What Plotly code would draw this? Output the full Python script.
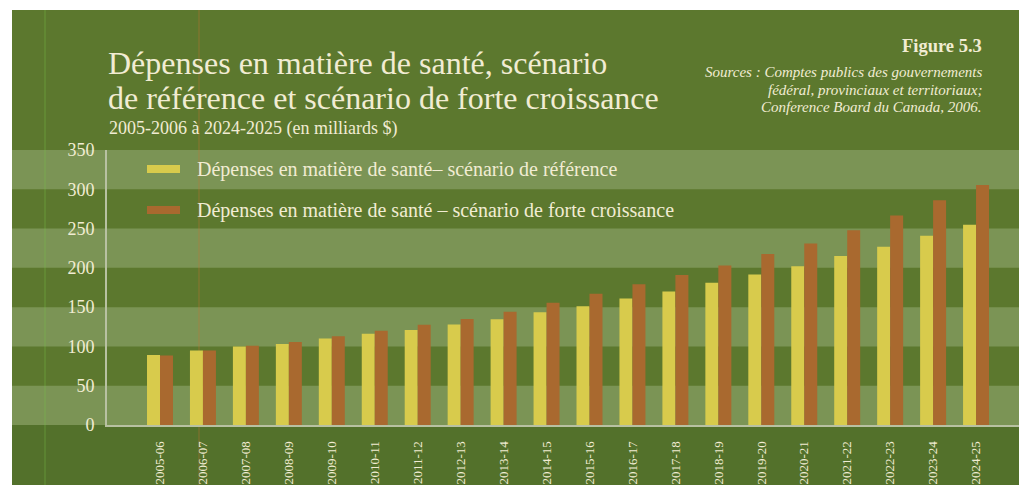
import plotly.graph_objects as go

annees = ['2005-06', '2006-07', '2007-08', '2008-09', '2009-10', '2010-11', '2011-12',
          '2012-13', '2013-14', '2014-15', '2015-16', '2016-17', '2017-18', '2018-19',
          '2019-20', '2020-21', '2021-22', '2022-23', '2023-24', '2024-25']
reference = [89, 94.7, 99.8, 103, 110, 116, 121, 128, 134.5, 143.5,
             151, 161, 170, 181, 191.5, 202, 215, 227, 241, 255]
forte = [88.5, 94.7, 101, 105.6, 113, 120, 127.5, 135, 144, 155.5,
         167, 179, 191, 203, 217.5, 231, 248, 266.5, 286, 305.5]
y_ticks = [0, 50, 100, 150, 200, 250, 300, 350]
bandes_claires = [(0, 50), (100, 150), (200, 250), (300, 350)]

nom_ref = 'Dépenses en matière de santé– scénario de référence'
nom_forte = 'Dépenses en matière de santé – scénario de forte croissance'

W, H = 1019, 489
L, R, T, B = 107, 0, 150, 64
JAUNE = '#d8cb4c'
BRUN = '#a9692f'
CREME = '#f1ecd3'
FOND = '#5c782e'
CLAIR = '#7b9455'
SERIF = 'Liberation Serif, Times New Roman, serif'


def px(xp):
    return (xp - L) / (W - L - R)


def py(yp):
    return (H - B - yp) / (H - T - B)


fig = go.Figure()
fig.add_trace(go.Bar(x=annees, y=reference, name=nom_ref, marker_color=JAUNE, marker_line_width=0))
fig.add_trace(go.Bar(x=annees, y=forte, name=nom_forte, marker_color=BRUN, marker_line_width=0))

shapes = []
# bandes horizontales du fond
for y0, y1 in bandes_claires:
    shapes.append(dict(type='rect', xref='paper', yref='y', x0=px(12), x1=px(W), y0=y0, y1=y1,
                       fillcolor=CLAIR, line_width=0, layer='below'))
# zone sous l'axe
shapes.append(dict(type='rect', xref='paper', yref='paper', x0=px(12), x1=px(W), y0=py(485), y1=0,
                   fillcolor='#53712b', line_width=0, layer='below'))
# traits verticaux de l'impression
for xl, coul in [(45, 'rgba(120,190,70,0.45)'), (199, 'rgba(200,110,50,0.45)')]:
    shapes.append(dict(type='line', xref='paper', yref='paper', x0=px(xl), x1=px(xl),
                       y0=py(485), y1=py(10), line=dict(color=coul, width=1), layer='below'))
# marges blanches (bord de page)
for x0, x1, y0, y1 in [(0, 12, 0, H), (0, W, 0, 10), (0, W, 485, H)]:
    shapes.append(dict(type='rect', xref='paper', yref='paper', x0=px(x0), x1=px(x1),
                       y0=py(y1), y1=py(y0), fillcolor='white', line_width=0, layer='above'))

# légende dessinée à la main
leg = [(JAUNE, nom_ref, 169), (BRUN, nom_forte, 210)]
annotations = []
for coul, txt, yc in leg:
    shapes.append(dict(type='rect', xref='paper', yref='paper', x0=px(147), x1=px(180),
                       y0=py(yc + 4), y1=py(yc - 4), fillcolor=coul, line_width=0))
    annotations.append(dict(text=txt, x=px(195), y=py(yc), xref='paper', yref='paper',
                            xanchor='left', yanchor='middle', showarrow=False,
                            font=dict(family=SERIF, size=20, color=CREME)))

# titres
annotations += [
    dict(text='Dépenses en matière de santé, scénario', x=px(106), y=py(63), xanchor='left',
         font=dict(family=SERIF, size=32, color=CREME)),
    dict(text='de référence et scénario de forte croissance', x=px(106), y=py(97.5), xanchor='left',
         font=dict(family=SERIF, size=32, color=CREME)),
    dict(text='2005-2006 à 2024-2025 (en milliards $)', x=px(107), y=py(128.5), xanchor='left',
         font=dict(family=SERIF, size=18, color=CREME)),
    dict(text='<b>Figure 5.3</b>', x=px(984), y=py(46), xanchor='right',
         font=dict(family=SERIF, size=18.5, color=CREME)),
    dict(text='<i>Sources : Comptes publics des gouvernements</i>', x=px(984), y=py(72), xanchor='right',
         font=dict(family=SERIF, size=15, color=CREME)),
    dict(text='<i>fédéral, provinciaux et territoriaux;</i>', x=px(984), y=py(89.5), xanchor='right',
         font=dict(family=SERIF, size=15, color=CREME)),
    dict(text='<i>Conference Board du Canada, 2006.</i>', x=px(984), y=py(107), xanchor='right',
         font=dict(family=SERIF, size=15, color=CREME)),
]
for a in annotations:
    a.setdefault('xref', 'paper')
    a.setdefault('yref', 'paper')
    a.setdefault('yanchor', 'middle')
    a.setdefault('showarrow', False)

fig.update_layout(
    width=W, height=H,
    margin=dict(l=L, r=R, t=T, b=B, autoexpand=False),
    paper_bgcolor=FOND, plot_bgcolor='rgba(0,0,0,0)',
    barmode='group', bargap=0.395, bargroupgap=0,
    showlegend=False, hovermode=False,
    shapes=shapes, annotations=annotations,
    font=dict(family=SERIF, color=CREME),
)
fig.update_xaxes(type='category', range=[-1.234, 20.0], showgrid=False, tickangle=-90,
                 showline=True, linecolor='#b8c1a2', linewidth=2,
                 ticks='', ticklabelstandoff=9,
                 tickfont=dict(family=SERIF, size=13, color=CREME))
fig.update_yaxes(range=[0, 350], tickvals=y_ticks, showgrid=False, zeroline=False,
                 showline=True, linecolor='#b8c1a2', linewidth=2,
                 ticks='', ticklabelstandoff=7,
                 tickfont=dict(family=SERIF, size=18, color=CREME))

# la page a une marge de 8 px par défaut : on la retire
fig.write_html('out.html', config={'displayModeBar': False},
               post_script="document.body.style.margin='0';")
